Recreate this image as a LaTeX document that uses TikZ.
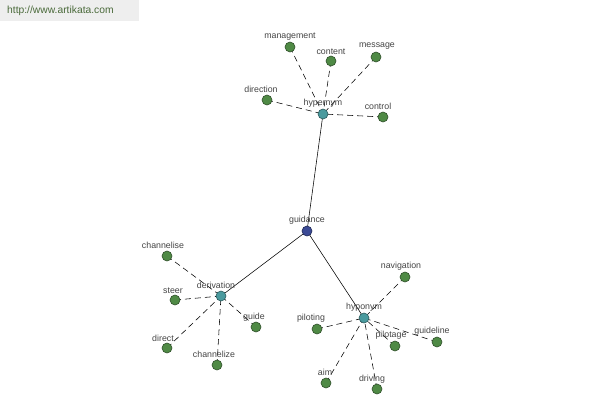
\documentclass[tikz,border=0pt]{standalone}
\usepackage{fontspec}
\setmainfont{Liberation Sans}
\definecolor{leaf}{HTML}{4F8A45}
\definecolor{leafb}{HTML}{2F4F2A}
\definecolor{hub}{HTML}{4A9A9E}
\definecolor{hubb}{HTML}{2C5A5C}
\definecolor{root}{HTML}{3B4A95}
\definecolor{rootb}{HTML}{1E2855}
\definecolor{lbl}{HTML}{444444}
\definecolor{hdrbg}{HTML}{EEEEEE}
\definecolor{hdrtx}{HTML}{4A6A3A}
\begin{document}
\begin{tikzpicture}[x=1pt,y=-1pt,
  leafnode/.style={circle,draw=leafb,fill=leaf,line width=0.6pt,minimum size=10pt,inner sep=0pt},
  hubnode/.style={circle,draw=hubb,fill=hub,line width=0.6pt,minimum size=10pt,inner sep=0pt},
  rootnode/.style={circle,draw=rootb,fill=root,line width=0.6pt,minimum size=10pt,inner sep=0pt},
  lab/.style={text=lbl,font=\fontsize{8.8}{10}\selectfont,inner sep=0pt,yshift=-1.5pt},
  rel/.style={draw=black,line width=0.55pt,dash pattern=on 6pt off 4pt},
  link/.style={draw=black,line width=0.55pt}]
\useasboundingbox (0,0) rectangle (600,400);
\fill[hdrbg] (0,0) rectangle (139,21);
\node[text=hdrtx,font=\fontsize{10.3}{12}\selectfont,anchor=west,inner sep=0pt] (hdr) at (7,11) {http://www.artikata.com};
% coordinates
\coordinate (pguid) at (307,231);
\coordinate (phyper) at (323,114);
\coordinate (pderiv) at (221,296);
\coordinate (phypo) at (364,318);
% edges
\draw[link] (pguid) -- (phyper);
\draw[link] (pguid) -- (pderiv);
\draw[link] (pguid) -- (phypo);
% leaves
\foreach \n/\x/\y/\lx/\ly/\h in {
  management/290/47/290/35/phyper,
  content/331/61/331/50/phyper,
  message/376/57/377/45/phyper,
  direction/267/100/261/88/phyper,
  control/383/117/378/105/phyper,
  channelise/167/256/163/244/pderiv,
  steer/175/300/173/289/pderiv,
  direct/167/348/163/337/pderiv,
  channelize/217/365/214/353/pderiv,
  guide/256/327/254/316/pderiv,
  navigation/405/277/401/265/phypo,
  piloting/317/329/311/317/phypo,
  pilotage/395/346/391/334/phypo,
  guideline/437/342/432/330/phypo,
  aim/326/383/325/371/phypo,
  driving/377/389/372/378/phypo}{
  \draw[rel] (\x,\y) -- (\h);
  \node[leafnode] (n\n) at (\x,\y) {};
  \node[lab] (l\n) at (\lx,\ly) {\n};
}
\node[rootnode] (guidance) at (pguid) {};
\node[lab] (lguidance) at (307,219) {guidance};
\node[hubnode] (hypernym) at (phyper) {};
\node[lab] (lhypernym) at (323,102) {hypernym};
\node[hubnode] (derivation) at (pderiv) {};
\node[lab] (lderivation) at (216,284) {derivation};
\node[hubnode] (hyponym) at (phypo) {};
\node[lab] (lhyponym) at (364,306) {hyponym};
\end{tikzpicture}
\end{document}
